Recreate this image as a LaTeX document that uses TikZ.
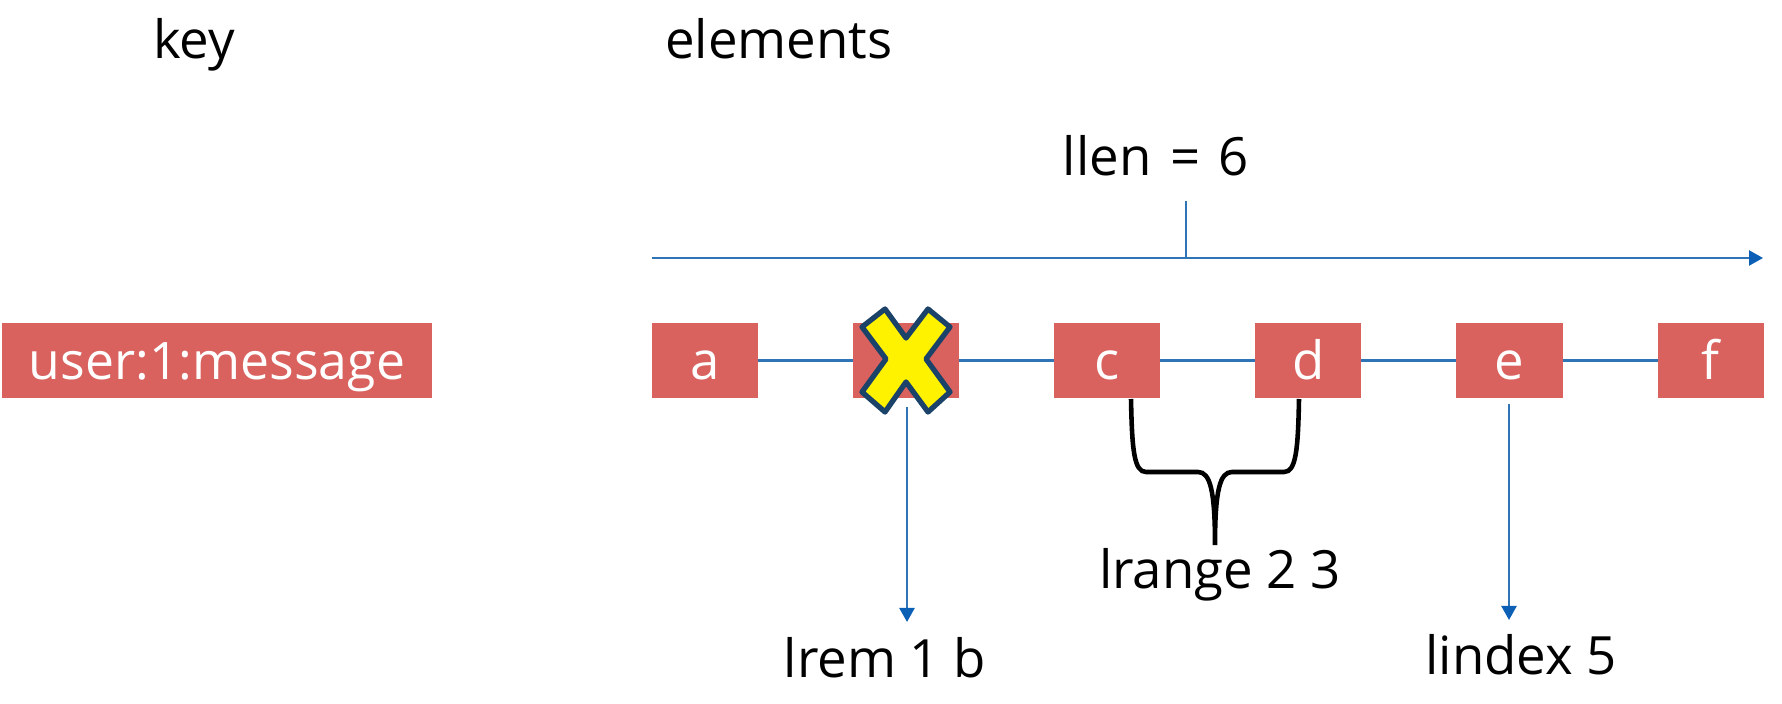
\documentclass[tikz,border=0pt]{standalone}
\usepackage{fontspec}
\setmainfont{Open Sans}
\usetikzlibrary{arrows.meta, positioning, calc}
\definecolor{boxred}{HTML}{D9625F}
\definecolor{linkblue}{HTML}{2F75B5}
\definecolor{tipblue}{HTML}{0B5FB5}
\definecolor{crossedge}{HTML}{1B4268}
\definecolor{crossfill}{HTML}{FFF200}

\begin{document}
\begin{tikzpicture}[
                x=0.01cm, y=-0.01cm,
                block/.style={rectangle, fill=boxred, text=white, minimum height=0.75cm, minimum width=#1, inner sep=0pt, outer sep=0pt, text height=0.38cm, text depth=0pt, font=\fontsize{15}{17}\selectfont},
                block/.default=1.06cm,
                label/.style={anchor=base, font=\fontsize{15}{17}\selectfont, text=black, inner sep=0pt},
                link/.style={draw=linkblue, line width=0.65pt},
                arrow/.style={link, -{Triangle[length=0.14cm, width=0.15cm, color=tipblue]}},
                node distance=0.95cm
            ]
                \useasboundingbox (0,0) rectangle (1782,704);
                \node[label] (key) at (194,59) {key};
                \node[label] (elements) at (779,59) {elements};
                \node[label] (llen) at (1156,176) {llen\kern1.4pt{} =\kern1.4pt{} 6};
                \node[block=4.3cm, font=\fontsize{14.7}{17}\selectfont] (msg) at (217,360.5) {user:1:message};

                \coordinate (top start) at (652,258);
                \coordinate (top end) at (1763,258);
                \coordinate (top mid) at (1186,258);
                \coordinate (tick) at (1186,201);
                \draw[arrow] (top start) -- (top end);
                \draw[link] (tick) -- (top mid);

                \node[block] (a) at (705,360.5) {a};
                \node[block, right=of a] (b) {b};
                \node[block, right=of b] (c) {c};
                \node[block, right=of c] (d) {d};
                \node[block, right=of d] (e) {e};
                \node[block, right=of e] (f) {f};

                \draw[link] (a) -- (b);
                \draw[link] (b) -- (c);
                \draw[link] (c) -- (d);
                \draw[link] (d) -- (e);
                \draw[link] (e) -- (f);

                % cross over b
                \draw[draw=crossedge, fill=crossfill, line width=1.5pt, line join=round] (885,309) -- (906,338) -- (928,309) -- (950,327) -- (926,359) -- (950,392) -- (928,412) -- (906,382) -- (885,412) -- (862,392) -- (886,359) -- (862,327) -- cycle;

                \node[label] (lrem) at (885,678) {lrem 1 b};
                \node[label] (lrange) at (1220,589) {lrange 2 3};
                \node[label] (lindex) at (1521,674) {lindex 5};
                \coordinate (lrem top) at (907,407);
                \coordinate (lrem tip) at (907,622);
                \coordinate (lindex top) at (1509,404);
                \coordinate (lindex tip) at (1509,620);
                \draw[arrow] (lrem top) -- (lrem tip);
                \draw[arrow] (lindex top) -- (lindex tip);

                % brace below c and d
                \coordinate (brace left) at (1131,399);
                \coordinate (brace right) at (1299,399);
                \coordinate (brace tip) at (1215,545);
                \draw[black, line width=1.3pt] (brace left) .. controls (1132,450) and (1134,472) .. (1146,472) -- (1198,472) .. controls (1210,472) and (1215,490) .. (brace tip) .. controls (1215,490) and (1220,472) .. (1232,472) -- (1284,472) .. controls (1296,472) and (1298,450) .. (brace right);
            \end{tikzpicture}
\end{document}
